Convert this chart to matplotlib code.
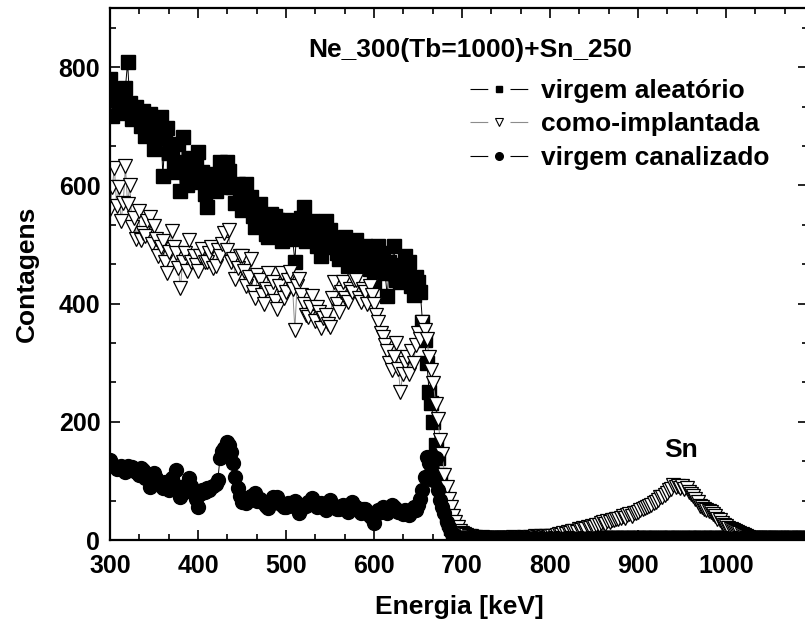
import numpy as np
import matplotlib
matplotlib.use("Agg")
import matplotlib.pyplot as plt
from matplotlib.ticker import MultipleLocator
from matplotlib.lines import Line2D

plt.rcParams['font.family'] = ['Liberation Sans', 'DejaVu Sans']
plt.rcParams['font.weight'] = 'bold'

# Energy calibration of the channels (keV)
e_start = 300.0
e_step = 2.5

# virgem aleatorio (channels from 300 keV)
virgem_aleatorio = [
    780, 718, 745, 760, 735, 722, 750, 765, 808, 740, 712, 728,
    732, 715, 700, 725, 683, 705, 720, 690, 661, 700, 685, 715,
    615, 680, 697, 655, 661, 640, 622, 670, 590, 681, 630, 600,
    647, 620, 605, 632, 656, 612, 622, 585, 563, 600, 605, 620,
    590, 618, 639, 630, 610, 640, 625, 598, 598, 570, 602, 585,
    559, 590, 602, 565, 580, 548, 529, 560, 568, 540, 545, 518,
    512, 552, 530, 548, 542, 520, 505, 538, 542, 525, 530, 510,
    471, 534, 515, 545, 563, 505, 514, 528, 540, 512, 498, 522,
    480, 510, 539, 500, 525, 495, 507, 485, 475, 503, 490, 512,
    463, 500, 483, 475, 508, 470, 488, 465, 497, 470, 458, 480,
    437, 468, 497, 455, 486, 452, 412, 470, 452, 497, 440, 462,
    436, 465, 480, 445, 471, 430, 415, 445, 436, 420, 369, 339,
    300, 251, 232, 200, 160, 139, 110, 85, 60, 42, 30, 20,
    14, 10, 8, 6, 5,
    4, 3, 4, 3, 3, 4, 2, 3, 3, 4, 3, 2,
    3, 3, 4, 3, 2, 3, 3, 3, 4, 3, 2, 3,
    3, 3, 4, 3, 3, 2, 3, 3, 4, 3, 3, 2,
    3, 4, 3, 3, 3, 2, 3, 3, 4, 3, 3, 3,
    2, 3, 3, 4, 3, 3, 2, 3, 3, 3, 4, 3,
    3, 2, 3, 3, 3, 4, 3, 3, 2, 3, 3, 3,
    4, 3, 3, 2, 3, 3, 3, 4, 3, 2, 3, 3,
    3, 4, 3, 3, 2, 3, 3, 3, 4, 3, 3, 2,
    3, 3, 4, 3, 3, 2, 3, 3, 3, 4, 3, 3,
    2, 3, 3, 3, 4, 3, 3, 2, 3, 3, 4, 3,
    3, 2, 3, 3, 3, 4, 3, 3, 2, 3, 3, 3,
    4, 3, 3, 2, 3, 3, 3, 4, 3, 3, 2, 3,
    3, 3, 4, 3, 3, 2, 3, 3, 3, 4, 3, 3,
]

# como-implantada
como_implantada = [
    560, 597, 630, 565, 597, 540, 570, 632, 568, 600, 530, 545,
    510, 556, 508, 520, 514, 540, 547, 500, 531, 510, 480, 495,
    505, 470, 452, 488, 522, 495, 486, 460, 427, 470, 485, 455,
    508, 470, 480, 465, 455, 480, 492, 470, 470, 485, 495, 460,
    463, 490, 480, 500, 520, 490, 525, 470, 475, 441, 460, 480,
    480, 455, 429, 445, 475, 420, 410, 448, 440, 415, 400, 425,
    452, 420, 436, 405, 390, 430, 452, 410, 420, 440, 454, 425,
    356, 430, 441, 415, 400, 380, 378, 395, 412, 370, 395, 385,
    359, 375, 380, 365, 361, 410, 437, 400, 386, 420, 436, 410,
    402, 425, 419, 440, 440, 410, 402, 425, 419, 400, 430, 415,
    400, 380, 368, 350, 344, 330, 319, 300, 288, 310, 334, 290,
    251, 280, 300, 310, 280, 320, 300, 330, 351, 340, 369, 355,
    340, 310, 288, 265, 230, 205, 170, 145, 110, 90, 70, 55,
    40, 30, 22, 16, 12,
    10, 8, 7, 6, 5, 5, 4, 4, 5, 4, 3, 4, 4, 3, 4, 3, 4, 4, 3, 4,
    3, 4, 5, 3, 4, 4, 3, 5, 4, 4, 5, 4, 6, 5, 4, 6, 5, 7, 5, 6,
    7, 6, 8, 10, 9, 12, 10, 14, 12, 15, 16, 14, 18, 17, 20, 19, 22, 20, 24, 22,
    26, 25, 28, 30, 27, 32, 30, 34, 33, 36, 35, 38, 40, 37, 42, 44, 41, 46, 45, 48,
    50, 52, 54, 55, 58, 60, 62, 64, 68, 73, 72, 76, 80, 84, 86, 93, 90, 92, 88, 91,
    86, 88, 82, 78, 74, 70, 64, 58, 56, 52, 50, 49, 47, 44, 40, 36, 33, 29, 26, 23,
    20, 18, 17, 15, 14, 12, 10, 8, 6, 5, 4, 4, 3, 3, 3, 2, 3, 2,
    3, 2, 2, 3, 2, 2, 3, 2, 2, 2, 3, 2, 2, 2, 3, 2, 2, 2,
]

# virgem canalizado
virgem_canalizado = [
    136, 128, 125, 120, 122, 126, 118, 115, 125, 118, 124, 120,
    115, 110, 122, 118, 105, 112, 90, 100, 113, 105, 100, 95,
    88, 98, 95, 85, 105, 95, 119, 90, 73, 80, 85, 95,
    105, 92, 80, 70, 56, 78, 85, 82, 88, 85, 90, 92,
    95, 102, 139, 150, 156, 166, 160, 149, 130, 107, 88, 75,
    64, 68, 63, 70, 75, 72, 80, 66, 70, 64, 62, 58,
    54, 66, 72, 65, 73, 62, 60, 55, 56, 62, 63, 58,
    66, 60, 46, 52, 60, 58, 65, 62, 71, 64, 55, 60,
    62, 55, 50, 58, 68, 60, 58, 52, 52, 58, 60, 55,
    48, 56, 64, 58, 55, 50, 45, 52, 52, 46, 40, 38,
    29, 44, 50, 48, 56, 50, 45, 52, 60, 55, 52, 47,
    48, 44, 51, 46, 42, 48, 55, 50, 59, 70, 85, 107,
    141, 130, 125, 102, 139, 85, 68, 55, 46, 30, 22, 14,
    10, 7, 5, 4, 3,
    3, 2, 3, 2, 2, 3, 2, 2, 3, 2, 2, 3,
    2, 2, 3, 2, 2, 2, 3, 2, 2, 3, 2, 2,
    2, 3, 2, 2, 3, 2, 2, 2, 3, 2, 2, 3,
    2, 2, 2, 3, 2, 2, 3, 2, 2, 2, 3, 2,
    2, 3, 2, 2, 2, 3, 2, 2, 3, 2, 2, 2,
    3, 2, 2, 3, 2, 2, 2, 3, 2, 2, 3, 2,
    2, 2, 3, 2, 2, 3, 2, 2, 2, 3, 2, 2,
    3, 2, 2, 2, 3, 2, 2, 3, 2, 2, 2, 3,
    2, 2, 3, 2, 2, 2, 3, 2, 2, 3, 2, 2,
    2, 3, 2, 2, 3, 2, 2, 2, 3, 2, 2, 3,
    2, 2, 2, 3, 2, 2, 3, 2, 2, 2, 3, 2,
    2, 3, 2, 2, 2, 3, 2, 2, 3, 2, 2, 2,
    3, 2, 2, 3, 2, 2, 2, 3, 2, 2, 3, 2,
]


def energia(serie):
    return e_start + e_step * np.arange(len(serie))


fig = plt.figure(figsize=(8.05, 6.31), dpi=100)
ax = fig.add_axes([110 / 805, 91 / 631, 698 / 805, 532 / 631])

ax.plot(energia(virgem_aleatorio), virgem_aleatorio, color='black', lw=0.7,
        marker='s', ms=9.5, mfc='black', mec='black')
ax.plot(energia(como_implantada), como_implantada, color='#8c8c8c', lw=0.7,
        marker='v', ms=10.5, mfc='white', mec='black', mew=0.9)
ax.plot(energia(virgem_canalizado), virgem_canalizado, color='black', lw=0.7,
        marker='o', ms=10, mfc='black', mec='black')

ax.set_xlim(300, 1093)
ax.set_ylim(0, 900)
ax.xaxis.set_major_locator(MultipleLocator(100))
ax.xaxis.set_minor_locator(MultipleLocator(100 / 3))
ax.yaxis.set_major_locator(MultipleLocator(200))
ax.yaxis.set_minor_locator(MultipleLocator(200 / 3))
ax.set_xticks([300, 400, 500, 600, 700, 800, 900, 1000])
ax.tick_params(which='both', direction='in', top=True, right=True,
               labelsize=18, width=1.2)
ax.tick_params(which='major', length=7)
ax.tick_params(which='minor', length=4.5)
ax.tick_params(axis='x', pad=10)
ax.tick_params(axis='y', pad=7)
for s in ax.spines.values():
    s.set_linewidth(1.6)

ax.set_xlabel('Energia [keV]', fontsize=19, fontweight='bold', labelpad=12)
ax.set_ylabel('Contagens', fontsize=19, fontweight='bold', labelpad=14)

ax.text(525, 829, 'Ne_300(Tb=1000)+Sn_250', fontsize=19,
        fontweight='bold', va='center', ha='left')
ax.text(949, 152, 'Sn', fontsize=19, fontweight='bold',
        va='center', ha='center')

# legend, the line is broken around the marker
# (dash lengths get scaled by the line width 0.8)
dash = (0, (16, 20, 16))
handles = [
    Line2D([], [], color='black', lw=0.8, ls=dash, marker='s', ms=5,
           mfc='black', mec='black'),
    Line2D([], [], color='#8c8c8c', lw=0.8, ls=dash, marker='v', ms=6,
           mfc='white', mec='black', mew=0.8),
    Line2D([], [], color='black', lw=0.8, ls=dash, marker='o', ms=5.5,
           mfc='black', mec='black'),
]
labels = ['virgem aleatório', 'como-implantada', 'virgem canalizado']
ax.legend(handles, labels, loc='upper left', frameon=False,
          bbox_to_anchor=(470 / 805, 1 - 79 / 631),
          bbox_transform=fig.transFigure,
          handlelength=2.2, handletextpad=0.5, labelspacing=0.36,
          borderpad=0, borderaxespad=0,
          prop={'weight': 'bold', 'size': 19})

fig.savefig('out.png', dpi=100)
